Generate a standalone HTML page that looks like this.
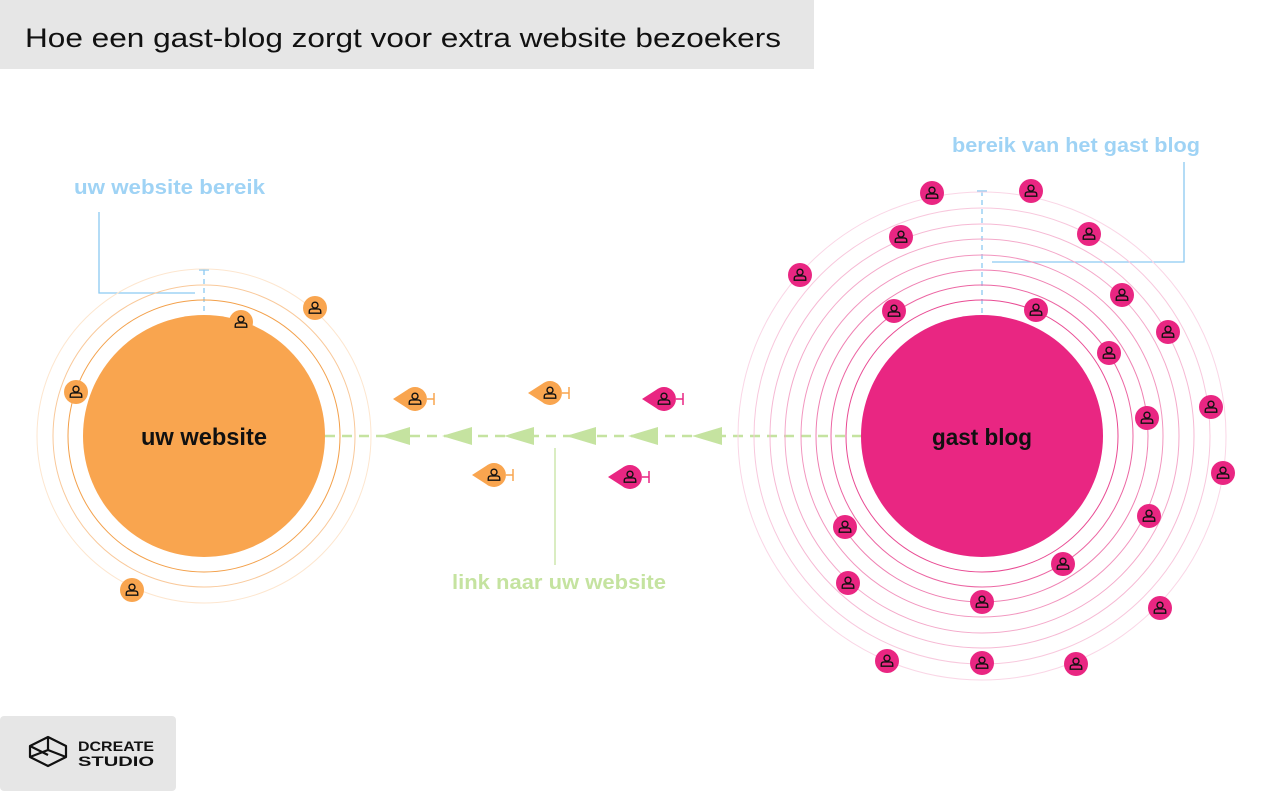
<!DOCTYPE html>
<html><head><meta charset="utf-8"><style>
html,body{margin:0;padding:0;background:#fff;}
svg{display:block;}
</style></head><body>
<svg width="1280" height="791" viewBox="0 0 1280 791" xmlns="http://www.w3.org/2000/svg">
<defs>
<g id="p" transform="scale(1.15)">
<circle cx="0" cy="-2.5" r="2.6" fill="none" stroke="#111" stroke-width="1.2"/>
<path d="M-5,4.5 L-5,3 Q-5,0.8 -2.5,0.8 L2.5,0.8 Q5,0.8 5,3 L5,4.5 Z" fill="none" stroke="#111" stroke-width="1.2"/>
</g>
<g id="po"><circle r="12" fill="#f9a54f"/><use href="#p"/></g>
<g id="pp"><circle r="12" fill="#e92682"/><use href="#p"/></g>
<g id="to"><path d="M-22,0 L-8,-9 A12,12 0 1 1 -8,9 Z" fill="#f9a54f"/><line x1="12" y1="0" x2="19" y2="0" stroke="#f9a54f" stroke-width="1.5"/><line x1="19" y1="-6" x2="19" y2="6" stroke="#f9a54f" stroke-width="1.5"/><use href="#p"/></g>
<g id="tp"><path d="M-22,0 L-8,-9 A12,12 0 1 1 -8,9 Z" fill="#e92682"/><line x1="12" y1="0" x2="19" y2="0" stroke="#e92682" stroke-width="1.5"/><line x1="19" y1="-6" x2="19" y2="6" stroke="#e92682" stroke-width="1.5"/><use href="#p"/></g>
</defs>

<rect x="0" y="0" width="814" height="69" fill="#e6e6e6"/>
<text x="25" y="47" font-family="Liberation Sans, sans-serif" font-size="27" fill="#111" textLength="756" lengthAdjust="spacingAndGlyphs">Hoe een gast-blog zorgt voor extra website bezoekers</text>

<!-- left -->
<text x="74" y="194" font-family="Liberation Sans, sans-serif" font-weight="bold" font-size="20" fill="#9fd3f5" textLength="191" lengthAdjust="spacingAndGlyphs">uw website bereik</text>
<polyline points="99,212 99,293 195,293" fill="none" stroke="#8ccaf2" stroke-width="1.3"/>
<line x1="204" y1="270" x2="204" y2="316" stroke="#8ccaf2" stroke-width="1.3" stroke-dasharray="5,4"/>
<line x1="199" y1="270" x2="209" y2="270" stroke="#8ccaf2" stroke-width="1.3"/>
<circle cx="204" cy="436" r="167" fill="none" stroke="#fde6cf" stroke-width="1"/>
<circle cx="204" cy="436" r="151" fill="none" stroke="#f9c99b" stroke-width="1"/>
<circle cx="204" cy="436" r="136" fill="none" stroke="#f3a04a" stroke-width="1"/>
<circle cx="204" cy="436" r="121" fill="#f9a54f"/>
<text x="204" y="445" text-anchor="middle" font-family="Liberation Sans, sans-serif" font-weight="bold" font-size="24" fill="#111" textLength="126" lengthAdjust="spacingAndGlyphs">uw website</text>
<use href="#po" x="241" y="322"/>
<use href="#po" x="315" y="308"/>
<use href="#po" x="76" y="392"/>
<use href="#po" x="132" y="590"/>

<!-- link -->
<line x1="325" y1="436" x2="862" y2="436" stroke="#c5e3a0" stroke-width="2.5" stroke-dasharray="10,7"/>
<g fill="#c5e3a0">
<polygon points="380,436 410,427 410,445"/>
<polygon points="442,436 472,427 472,445"/>
<polygon points="504,436 534,427 534,445"/>
<polygon points="566,436 596,427 596,445"/>
<polygon points="628,436 658,427 658,445"/>
<polygon points="692,436 722,427 722,445"/>
</g>
<line x1="555" y1="448" x2="555" y2="565" stroke="#c5e3a0" stroke-width="1.3"/>
<text x="452" y="589" font-family="Liberation Sans, sans-serif" font-weight="bold" font-size="20" fill="#c5e3a0" textLength="214" lengthAdjust="spacingAndGlyphs">link naar uw website</text>
<use href="#to" x="415" y="399"/>
<use href="#to" x="550" y="393"/>
<use href="#to" x="494" y="475"/>
<use href="#tp" x="664" y="399"/>
<use href="#tp" x="630" y="477"/>

<!-- right -->
<text x="952" y="152" font-family="Liberation Sans, sans-serif" font-weight="bold" font-size="20" fill="#9fd3f5" textLength="248" lengthAdjust="spacingAndGlyphs">bereik van het gast blog</text>
<polyline points="1184,162 1184,262 992,262" fill="none" stroke="#8ccaf2" stroke-width="1.3"/>
<line x1="982" y1="191" x2="982" y2="316" stroke="#8ccaf2" stroke-width="1.3" stroke-dasharray="5,4"/>
<line x1="977" y1="191" x2="987" y2="191" stroke="#8ccaf2" stroke-width="1.3"/>
<g fill="none" stroke-width="1">
<circle cx="982" cy="436" r="244" stroke="#fad6e6"/>
<circle cx="982" cy="436" r="228" stroke="#f8c8dd"/>
<circle cx="982" cy="436" r="212" stroke="#f6b9d4"/>
<circle cx="982" cy="436" r="197" stroke="#f4a9ca"/>
<circle cx="982" cy="436" r="181" stroke="#f296bf"/>
<circle cx="982" cy="436" r="166" stroke="#ef80b2"/>
<circle cx="982" cy="436" r="151" stroke="#ec66a3"/>
<circle cx="982" cy="436" r="136" stroke="#e94a93"/>
</g>
<circle cx="982" cy="436" r="121" fill="#e92682"/>
<text x="982" y="445" text-anchor="middle" font-family="Liberation Sans, sans-serif" font-weight="bold" font-size="23" fill="#111" textLength="100" lengthAdjust="spacingAndGlyphs">gast blog</text>
<use href="#pp" x="932" y="193"/>
<use href="#pp" x="1031" y="191"/>
<use href="#pp" x="901" y="237"/>
<use href="#pp" x="1089" y="234"/>
<use href="#pp" x="800" y="275"/>
<use href="#pp" x="1122" y="295"/>
<use href="#pp" x="894" y="311"/>
<use href="#pp" x="1036" y="310"/>
<use href="#pp" x="1168" y="332"/>
<use href="#pp" x="1109" y="353"/>
<use href="#pp" x="1211" y="407"/>
<use href="#pp" x="1147" y="418"/>
<use href="#pp" x="1223" y="473"/>
<use href="#pp" x="1149" y="516"/>
<use href="#pp" x="845" y="527"/>
<use href="#pp" x="1063" y="564"/>
<use href="#pp" x="848" y="583"/>
<use href="#pp" x="982" y="602"/>
<use href="#pp" x="1160" y="608"/>
<use href="#pp" x="887" y="661"/>
<use href="#pp" x="982" y="663"/>
<use href="#pp" x="1076" y="664"/>

<!-- logo -->
<rect x="0" y="716" width="176" height="75" rx="4" fill="#e6e6e6"/>
<g fill="none" stroke="#111" stroke-width="2.2" stroke-linejoin="round">
<path d="M48,737 L66,746 L66,757 L48,766 L30,757 L30,746 Z"/>
<path d="M48,737 L48,750 L30,757"/>
<path d="M48,750 L66,757"/>
<path d="M30,746 L48,755"/>
</g>
<text x="78" y="751" font-family="Liberation Sans, sans-serif" font-weight="bold" font-size="14" fill="#111" textLength="76" lengthAdjust="spacingAndGlyphs">DCREATE</text>
<text x="78" y="766" font-family="Liberation Sans, sans-serif" font-weight="bold" font-size="14" fill="#111" textLength="76" lengthAdjust="spacingAndGlyphs">STUDIO</text>
</svg>
</body></html>
